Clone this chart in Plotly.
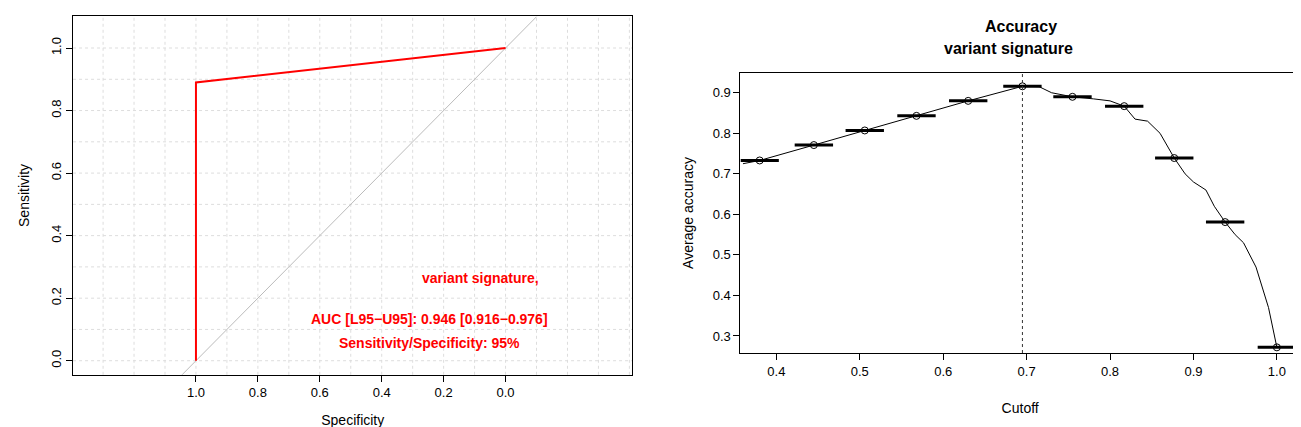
import plotly.graph_objects as go

# ROC data
roc_spec = [1.0, 1.0, 0.0]
roc_sens = [0.0, 0.89, 1.0]

# accuracy vs cutoff
cut_pts = [0.38, 0.445, 0.506, 0.568, 0.630, 0.695, 0.755, 0.817, 0.877, 0.938, 1.0]
acc_pts = [0.733, 0.771, 0.807, 0.843, 0.880, 0.916, 0.890, 0.867, 0.739, 0.581, 0.272]
curve_x = [0.36, 0.38, 0.445, 0.506, 0.568, 0.63, 0.695, 0.715, 0.73, 0.755, 0.78, 0.80,
           0.817, 0.83, 0.845, 0.86, 0.877, 0.89, 0.90, 0.915, 0.925, 0.938, 0.95, 0.96,
           0.975, 0.985, 0.99, 1.0]
curve_y = [0.725, 0.733, 0.771, 0.807, 0.843, 0.88, 0.916, 0.915, 0.90, 0.89, 0.885, 0.88,
           0.867, 0.835, 0.83, 0.80, 0.739, 0.70, 0.68, 0.66, 0.62, 0.581, 0.55, 0.53,
           0.47, 0.40, 0.37, 0.272]
best_cut = 0.695
bar_half = 0.023

fig = go.Figure()
# left panel grid (dotted)
for g in [i / 10 for i in range(-4, 14)]:
    fig.add_shape(type="line", xref="x", yref="paper", x0=g, x1=g, y0=0.141, y1=0.981,
                  line=dict(color="#dddddd", width=1, dash="dot"), layer="below")
for g in [i / 10 for i in range(0, 11)]:
    fig.add_shape(type="line", xref="paper", yref="y", x0=0.05, x1=0.48, y0=g, y1=g,
                  line=dict(color="#dddddd", width=1, dash="dot"), layer="below")

fig.add_trace(go.Scatter(x=[1.1, -0.1], y=[-0.1, 1.1], mode="lines",
                         line=dict(color="#bbbbbb", width=1), xaxis="x", yaxis="y"))
fig.add_trace(go.Scatter(x=roc_spec, y=roc_sens, mode="lines",
                         line=dict(color="red", width=2), xaxis="x", yaxis="y"))

# right panel
fig.add_trace(go.Scatter(x=curve_x, y=curve_y, mode="lines",
                         line=dict(color="black", width=1), xaxis="x2", yaxis="y2"))
for cx, cy in zip(cut_pts, acc_pts):
    fig.add_trace(go.Scatter(x=[cx - bar_half, cx + bar_half], y=[cy, cy], mode="lines",
                             line=dict(color="black", width=3), xaxis="x2", yaxis="y2"))
fig.add_trace(go.Scatter(x=cut_pts, y=acc_pts, mode="markers",
                         marker=dict(symbol="circle-open", size=7, color="black"),
                         xaxis="x2", yaxis="y2"))
fig.add_shape(type="line", xref="x2", yref="paper", x0=best_cut, x1=best_cut,
              y0=0.192, y1=0.848, line=dict(color="#333333", width=1, dash="3px,3px"))

ax = dict(showgrid=False, zeroline=False, showline=True, mirror=True, linecolor="black",
          ticks="outside", tickcolor="black", ticklen=6,
          tickfont=dict(size=13, color="black"))
ann = dict(xref="paper", yref="paper", showarrow=False, xanchor="center", yanchor="middle")
fig.update_layout(
    width=1301, height=427, showlegend=False,
    paper_bgcolor="white", plot_bgcolor="white",
    margin=dict(l=0, r=0, t=0, b=0),
    font=dict(family="Liberation Sans, Arial", color="black"),
    xaxis=dict(ax, domain=[0.05, 0.48], range=[1.397, -0.41],
               tickvals=[1.0, 0.8, 0.6, 0.4, 0.2, 0.0], ticktext=["1.0", "0.8", "0.6", "0.4", "0.2", "0.0"],
               title=dict(text="Specificity", font=dict(size=14))),
    yaxis=dict(ax, domain=[0.141, 0.981], range=[-0.045, 1.102], tickangle=-90,
               tickvals=[0, 0.2, 0.4, 0.6, 0.8, 1.0], ticktext=["0.0", "0.2", "0.4", "0.6", "0.8", "1.0"],
               title=dict(text="Sensitivity", font=dict(size=14))),
    xaxis2=dict(ax, domain=[0.563, 0.993], range=[0.357, 1.0276], anchor="y2",
                tickvals=[0.4, 0.5, 0.6, 0.7, 0.8, 0.9, 1.0],
                ticktext=["0.4", "0.5", "0.6", "0.7", "0.8", "0.9", "1.0"],
                title=dict(text="Cutoff", font=dict(size=14), standoff=25)),
    yaxis2=dict(ax, domain=[0.192, 0.848], range=[0.258, 0.949], anchor="x2",
                tickvals=[0.3, 0.4, 0.5, 0.6, 0.7, 0.8, 0.9],
                title=dict(text="Average accuracy", font=dict(size=14))),
    annotations=[
        dict(ann, text="<b>variant signature,</b>", x=472 / 1301, y=1 - 270 / 427,
             font=dict(color="red", size=14)),
        dict(ann, text="<b>AUC [L95−U95]: 0.946 [0.916−0.976]</b>", x=421 / 1301, y=1 - 311 / 427,
             font=dict(color="red", size=14)),
        dict(ann, text="<b>Sensitivity/Specificity: 95%</b>", x=421 / 1301, y=1 - 335 / 427,
             font=dict(color="red", size=14)),
        dict(ann, text="<b>Accuracy</b>", x=1013 / 1301, y=1 - 18 / 427, font=dict(size=16)),
        dict(ann, text="<b>variant signature</b>", x=1000 / 1301, y=1 - 40 / 427, font=dict(size=16)),
    ],
)
fig.write_html("out.html")
